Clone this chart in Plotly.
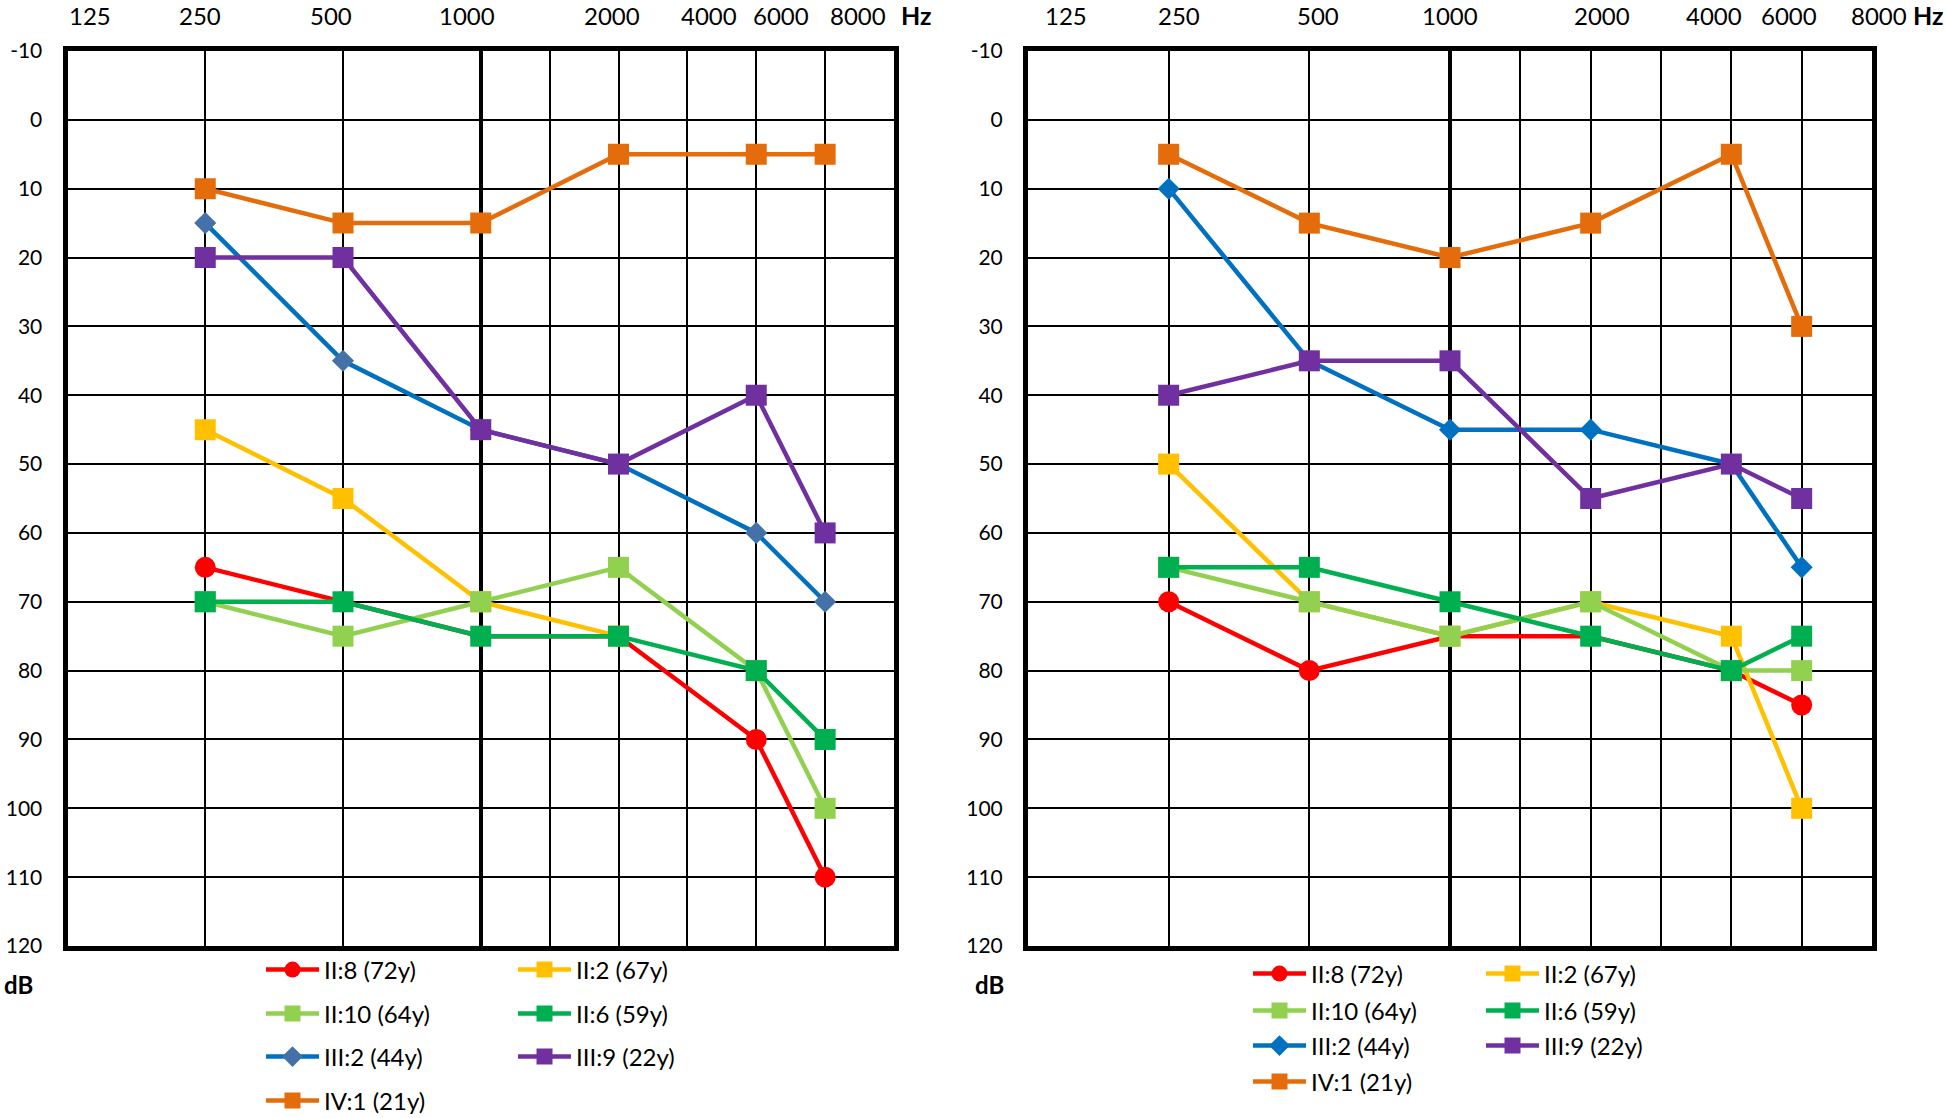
import plotly.graph_objects as go

# ---------------- data ----------------
freqs = [250, 500, 1000, 2000, 4000, 6000]          # Hz
axis_freq_labels = ["125", "250", "500", "1000", "2000", "4000", "6000", "8000"]
db_ticks = [-10, 0, 10, 20, 30, 40, 50, 60, 70, 80, 90, 100, 110, 120]

series_names = ["II:8 (72y)", "II:2 (67y)", "II:10 (64y)", "II:6 (59y)",
                "III:2 (44y)", "III:9 (22y)", "IV:1 (21y)"]

# left audiogram (dB HL)
left_II8 = [65, 70, 75, 75, 90, 110]
left_II2 = [45, 55, 70, 75, None, None]
left_II10 = [70, 75, 70, 65, 80, 100]
left_II6 = [70, 70, 75, 75, 80, 90]
left_III2 = [15, 35, 45, 50, 60, 70]
left_III9 = [20, 20, 45, 50, 40, 60]
left_IV1 = [10, 15, 15, 5, 5, 5]

# right audiogram (dB HL)
right_II8 = [70, 80, 75, 75, 80, 85]
right_II2 = [50, 70, 75, 70, 75, 100]
right_II10 = [65, 70, 75, 70, 80, 80]
right_II6 = [65, 65, 70, 75, 80, 75]
right_III2 = [10, 35, 45, 45, 50, 65]
right_III9 = [40, 35, 35, 55, 50, 55]
right_IV1 = [5, 15, 20, 15, 5, 30]

left_values = [left_II8, left_II2, left_II10, left_II6, left_III2, left_III9, left_IV1]
right_values = [right_II8, right_II2, right_II10, right_II6, right_III2, right_III9, right_IV1]

# ---------------- styles / layout ----------------
W, H = 1946, 1118
# audiogram frequency scale: octave positions, half-octave frequencies mid-way
AUDIO_POS = {125: 0, 250: 1, 500: 2, 1000: 3, 1500: 3.5, 2000: 4,
             3000: 4.5, 4000: 5, 6000: 5.5, 8000: 6}
xpos = [AUDIO_POS[f] for f in freqs]

line_colors = ["#FF0000", "#FFC000", "#92D050", "#00B050", "#0070C0", "#7030A0", "#E46C0A"]
left_marker_colors = ["#FF0000", "#FFC000", "#92D050", "#00B050", "#4472A8", "#7030A0", "#E46C0A"]
right_marker_colors = ["#FF0000", "#FFC000", "#92D050", "#00B050", "#0070C0", "#7030A0", "#E46C0A"]
symbols = ["circle", "square", "square", "square", "diamond", "square", "square"]
msizes = [21, 21, 21, 21, 17, 21, 21]

FONT = "Lato, Carlito, Open Sans, sans-serif"

px_left = (67.5, 894)
px_right = (1028, 1872)
px_top, px_bottom = 51, 946

def fx(px):
    return px / W

def fy(py):
    return 1 - py / H

dom_left = [fx(px_left[0]), fx(px_left[1])]
dom_right = [fx(px_right[0]), fx(px_right[1])]
dom_y = [fy(px_bottom), fy(px_top)]

# legend rows: trace index groups per row
legend_rows = [[0, 1], [2, 3], [4, 5], [6]]
left_row_y = [970, 1014, 1057, 1101]
right_row_y = [974, 1011, 1046, 1082]
left_legend_x = 261
right_legend_x = 1248
left_entry = 184
right_entry = 165

fig = go.Figure()

def add_chart(values, marker_colors, xa, ya, legend_offset):
    for i, name in enumerate(series_names):
        row = [r for r, grp in enumerate(legend_rows) if i in grp][0]
        lg = "legend" if (legend_offset + row) == 0 else f"legend{legend_offset + row + 1}"
        fig.add_trace(go.Scatter(
            x=xpos, y=values[i], name=name, mode="lines+markers",
            xaxis=xa, yaxis=ya, legend=lg,
            line=dict(color=line_colors[i], width=4.5),
            marker=dict(symbol=symbols[i], size=msizes[i], color=marker_colors[i],
                        line=dict(width=0)),
            connectgaps=False, hoverinfo="x+y+name",
        ))

add_chart(left_values, left_marker_colors, "x", "y", 0)
add_chart(right_values, right_marker_colors, "x2", "y3", 4)

def xaxis_cfg(domain, anchor):
    return dict(
        domain=domain, anchor=anchor, range=[0, 6],
        tickmode="array", tickvals=[0, 3, 6], showticklabels=False, ticks="",
        showgrid=True, gridcolor="black", gridwidth=4,
        minor=dict(tickmode="array", tickvals=[1, 2, 3.5, 4, 4.5, 5, 5.5],
                   showgrid=True, gridcolor="black", gridwidth=2, ticks=""),
        showline=True, linecolor="black", linewidth=5, mirror=True,
        zeroline=False, fixedrange=True,
    )

def yaxis_cfg(anchor):
    return dict(
        domain=dom_y, anchor=anchor, range=[120, -10],
        tickmode="array", tickvals=db_ticks, ticktext=[str(v) for v in db_ticks],
        showgrid=True, gridcolor="black", gridwidth=2,
        ticks="outside", ticklen=16, tickcolor="rgba(0,0,0,0)",
        tickfont=dict(family=FONT, size=21, color="black"),
        showline=True, linecolor="black", linewidth=5, mirror=True,
        zeroline=False, fixedrange=True,
    )

def yaxis_thick(overlay, anchor):
    return dict(
        overlaying=overlay, anchor=anchor, range=[120, -10], side="left",
        tickmode="array", tickvals=[0, 40, 80], showticklabels=False, ticks="",
        showgrid=True, gridcolor="black", gridwidth=4.5,
        showline=False, zeroline=False, fixedrange=True,
    )

layout = dict(
    width=W, height=H, margin=dict(l=0, r=0, t=0, b=0, autoexpand=False),
    paper_bgcolor="white", plot_bgcolor="white",
    font=dict(family=FONT, color="black"),
    xaxis=xaxis_cfg(dom_left, "y"),
    xaxis2=xaxis_cfg(dom_right, "y3"),
    yaxis=yaxis_cfg("x"),
    yaxis2=yaxis_thick("y", "x"),
    yaxis3=yaxis_cfg("x2"),
    yaxis4=yaxis_thick("y3", "x2"),
)

# legends
for k in range(8):
    side_left = k < 4
    r = k % 4
    key = "legend" if k == 0 else f"legend{k + 1}"
    layout[key] = dict(
        orientation="h", xanchor="left", yanchor="middle",
        x=fx(left_legend_x if side_left else right_legend_x),
        y=fy(left_row_y[r] if side_left else right_row_y[r]),
        entrywidth=left_entry if side_left else right_entry, entrywidthmode="pixels",
        itemwidth=53, bgcolor="rgba(0,0,0,0)", borderwidth=0,
        font=dict(family=FONT, size=24, color="black"),
        itemclick=False, itemdoubleclick=False,
    )

fig.update_layout(**layout)

# top frequency labels (positions as they appear on the original figure)
left_label_pos = [0.16, 0.96, 1.91, 2.9, 3.95, 4.66, 5.18, 5.74]
right_label_pos = [0.27, 1.07, 2.06, 3.0, 4.08, 4.88, 5.41, 6.05]
left_hz_pos, right_hz_pos = 6.16, 6.4

def pos_to_paper(pos, dom):
    return dom[0] + pos / 6 * (dom[1] - dom[0])

ann = []
for lbls_pos, dom, hz in [(left_label_pos, dom_left, left_hz_pos),
                          (right_label_pos, dom_right, right_hz_pos)]:
    for lab, p in zip(axis_freq_labels, lbls_pos):
        ann.append(dict(text=lab, x=pos_to_paper(p, dom), y=fy(15), xref="paper", yref="paper",
                        xanchor="center", yanchor="middle", showarrow=False,
                        font=dict(family=FONT, size=24, color="black")))
    ann.append(dict(text="<b>Hz</b>", x=pos_to_paper(hz, dom), y=fy(15), xref="paper", yref="paper",
                    xanchor="center", yanchor="middle", showarrow=False,
                    font=dict(family=FONT, size=25, color="black")))

for xp in [18, 989]:
    ann.append(dict(text="<b>dB</b>", x=fx(xp), y=fy(984), xref="paper", yref="paper",
                    xanchor="center", yanchor="middle", showarrow=False,
                    font=dict(family=FONT, size=24, color="black")))

fig.update_layout(annotations=ann)

fig.write_html(
    "out.html",
    config={"displayModeBar": False},
    post_script="document.body.style.margin='0';document.body.style.overflow='hidden';",
)
